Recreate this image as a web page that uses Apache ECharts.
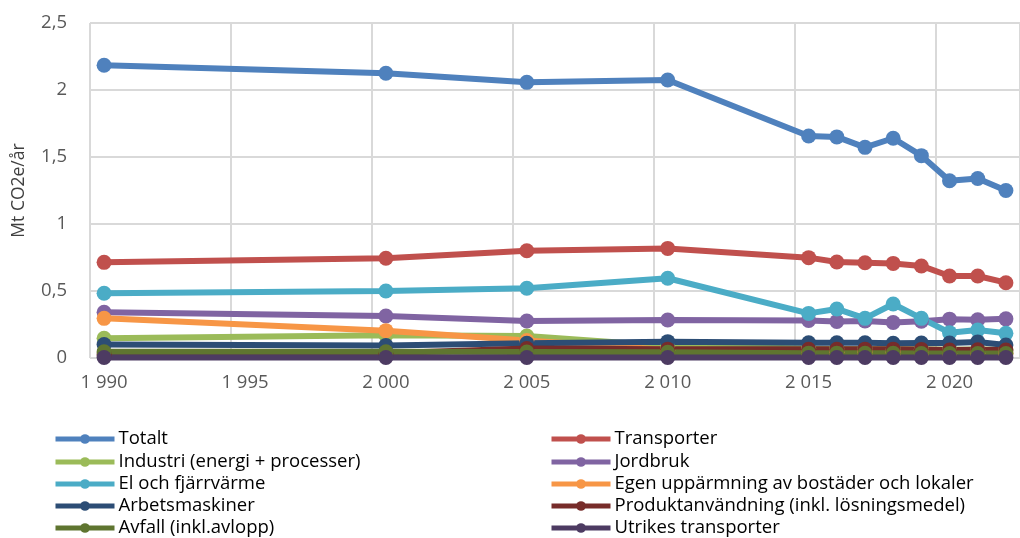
<!DOCTYPE html>
<html>
<head>
<meta charset="utf-8">
<script src="https://cdn.jsdelivr.net/npm/echarts@6/dist/echarts.min.js"></script>
<style>
html,body{margin:0;padding:0;background:#fff;}
#chart{width:1020px;height:538px;}
</style>
</head>
<body>
<div id="chart"></div>
<script>
const years = [1990, 2000, 2005, 2010, 2015, 2016, 2017, 2018, 2019, 2020, 2021, 2022];
const xLabelYears = [1990, 1995, 2000, 2005, 2010, 2015, 2020];
const yTicks = [0, 0.5, 1, 1.5, 2, 2.5];

const totalt        = [2.185, 2.125, 2.057, 2.075, 1.657, 1.650, 1.572, 1.640, 1.510, 1.323, 1.340, 1.250];
const transporter   = [0.714, 0.744, 0.800, 0.818, 0.749, 0.716, 0.711, 0.706, 0.687, 0.612, 0.612, 0.562];
const industri      = [0.147, 0.170, 0.164, 0.090, 0.070, 0.068, 0.068, 0.066, 0.066, 0.062, 0.064, 0.062];
const jordbruk      = [0.341, 0.313, 0.276, 0.284, 0.280, 0.272, 0.276, 0.265, 0.275, 0.290, 0.285, 0.292];
const elFjarrvarme  = [0.483, 0.500, 0.520, 0.595, 0.333, 0.366, 0.296, 0.403, 0.296, 0.189, 0.209, 0.184];
const egenUppvarm   = [0.296, 0.204, 0.130, 0.060, 0.045, 0.042, 0.040, 0.040, 0.038, 0.035, 0.036, 0.034];
const arbetsmask    = [0.100, 0.094, 0.110, 0.122, 0.114, 0.114, 0.114, 0.110, 0.112, 0.112, 0.120, 0.097];
const produktanv    = [0.025, 0.035, 0.070, 0.066, 0.065, 0.065, 0.066, 0.066, 0.064, 0.060, 0.062, 0.060];
const avfall        = [0.047, 0.047, 0.045, 0.042, 0.036, 0.036, 0.035, 0.035, 0.034, 0.034, 0.034, 0.033];
const utrikes       = [0.004, 0.004, 0.004, 0.004, 0.004, 0.004, 0.004, 0.004, 0.004, 0.004, 0.004, 0.004];

const seriesDefs = [
  {name: 'Totalt', data: totalt, color: '#4F81BD'},
  {name: 'Transporter', data: transporter, color: '#C0504D'},
  {name: 'Industri (energi + processer)', data: industri, color: '#9BBB59'},
  {name: 'Jordbruk', data: jordbruk, color: '#8064A2'},
  {name: 'El och fjärrvärme', data: elFjarrvarme, color: '#4BACC6'},
  {name: 'Egen uppärmning av bostäder och lokaler', data: egenUppvarm, color: '#F79646'},
  {name: 'Arbetsmaskiner', data: arbetsmask, color: '#2C4D75'},
  {name: 'Produktanvändning (inkl. lösningsmedel)', data: produktanv, color: '#772C2A'},
  {name: 'Avfall (inkl.avlopp)', data: avfall, color: '#5F7530'},
  {name: 'Utrikes transporter', data: utrikes, color: '#4D3B62'}
];

const font = 'Open Sans';
const fmtYear = v => String(v).replace(/^(\d)(\d{3})$/, '$1 $2');

const legendTops = [429, 452, 474, 496, 518];
const legendLefts = [53, 549];
const legends = seriesDefs.map((s, i) => ({
  orient: 'vertical',
  left: legendLefts[i % 2],
  top: legendTops[Math.floor(i / 2)],
  padding: 0,
  itemWidth: 59,
  itemHeight: 12,
  lineStyle: {width: 5},
  textStyle: {fontFamily: font, fontSize: 18.5, color: '#000', lineHeight: 20, padding: [0, 0, 0, -1]},
  selectedMode: false,
  data: [s.name]
}));

const chart = echarts.init(document.getElementById('chart'));
chart.setOption({
  animation: false,
  grid: {left: 90, right: -10, top: 23, bottom: 180, containLabel: false},
  legend: legends,
  xAxis: [
    {
      type: 'value', min: 1989.5, max: 2022.5,
      axisLine: {show: false}, axisTick: {show: false}, splitLine: {show: false},
      axisLabel: {customValues: xLabelYears, formatter: fmtYear, fontFamily: font, fontSize: 18.5, color: '#595959', margin: 15}
    },
    {
      type: 'value', min: 0, max: 33, interval: 5, position: 'bottom',
      axisLine: {show: false}, axisTick: {show: false}, axisLabel: {show: false},
      splitLine: {show: true, lineStyle: {color: '#D9D9D9', width: 2}}
    }
  ],
  yAxis: {
    type: 'value', min: 0, max: 2.5, interval: 0.5,
    axisLine: {show: false}, axisTick: {show: false},
    splitLine: {lineStyle: {color: '#D9D9D9', width: 2}},
    axisLabel: {formatter: v => String(v).replace('.', ','), fontFamily: font, fontSize: 18.5, color: '#595959', margin: 23},
    name: 'Mt CO2e/år', nameLocation: 'middle', nameGap: 62, nameRotate: 90,
    nameTextStyle: {fontFamily: font, fontSize: 17.5, color: '#404040'}
  },
  series: seriesDefs.map(s => ({
    name: s.name,
    type: 'line',
    xAxisIndex: 0,
    data: years.map((y, i) => [y, s.data[i]]),
    symbol: 'circle',
    symbolSize: 15,
    color: s.color,
    itemStyle: {color: s.color},
    lineStyle: {color: s.color, width: 6},
    emphasis: {disabled: true}
  }))
});
</script>
</body>
</html>
